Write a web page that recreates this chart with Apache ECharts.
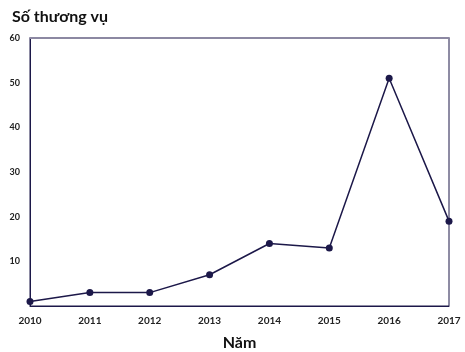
<!DOCTYPE html>
<html>
<head>
<meta charset="utf-8">
<title>Số thương vụ</title>
<script src="https://cdn.jsdelivr.net/npm/echarts@6/dist/echarts.min.js"></script>
<style>
  html, body { margin: 0; padding: 0; background: #fff; }
  #chart { width: 465px; height: 352px; }
</style>
</head>
<body>
<div id="chart"></div>
<script>
var years = ['2010', '2011', '2012', '2013', '2014', '2015', '2016', '2017'];
var deals = [1, 3, 3, 7, 14, 13, 51, 19];
var yTicks = [0, 10, 20, 30, 40, 50, 60];

var lineColor = '#1c1849';
var chart = echarts.init(document.getElementById('chart'));
chart.setOption({
  animation: false,
  title: {
    text: 'Số thương vụ',
    left: 7, top: 4,
    textStyle: { fontFamily: 'Lato', fontSize: 16, fontWeight: 'bold', color: '#111' }
  },
  grid: {
    left: 30, right: 16, top: 38, bottom: 46,
    containLabel: false, outerBoundsMode: 'none',
    show: true, borderColor: lineColor, borderWidth: 1
  },
  xAxis: [{
    type: 'category',
    data: years,
    boundaryGap: false,
    name: 'Năm',
    nameLocation: 'middle',
    nameGap: 29,
    nameTextStyle: { fontFamily: 'Lato', fontSize: 16, fontWeight: 'bold', color: '#111' },
    axisLine: { lineStyle: { color: lineColor, width: 1 } },
    axisTick: { show: false },
    axisLabel: { fontFamily: 'Lato', fontSize: 10, fontWeight: 'bold', color: '#222', margin: 10 }
  }, {
    type: 'category',
    data: years,
    position: 'top',
    boundaryGap: false,
    axisLine: { lineStyle: { color: '#8c88a2', width: 2 } },
    axisTick: { show: false },
    axisLabel: { show: false }
  }],
  yAxis: {
    type: 'value',
    min: yTicks[0],
    max: yTicks[yTicks.length - 1],
    interval: 10,
    axisLine: { show: true, lineStyle: { color: lineColor } },
    axisTick: { show: false },
    splitLine: { show: false },
    axisLabel: {
      fontFamily: 'Lato', fontSize: 9, fontWeight: 'bold', color: '#222', margin: 10,
      formatter: function (v) { return v === 0 ? '' : v; }
    }
  },
  series: [{
    type: 'line',
    data: deals,
    symbol: 'circle',
    symbolSize: 7,
    itemStyle: { color: lineColor },
    lineStyle: { color: lineColor, width: 1.5 }
  }]
});
</script>
</body>
</html>
